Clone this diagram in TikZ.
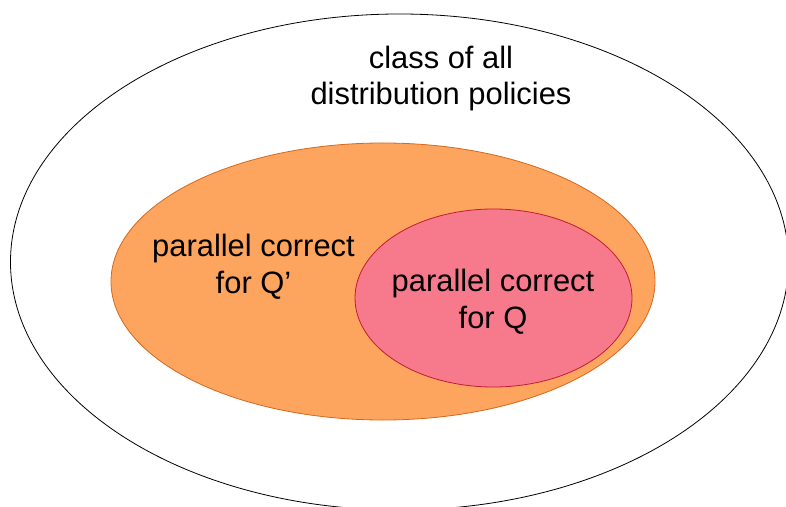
\documentclass[tikz,border=0pt]{standalone}
\usepackage{fontspec}
\setmainfont{Liberation Sans}
\usetikzlibrary{shapes.geometric}
\definecolor{orfill}{RGB}{253,164,94}
\definecolor{ordraw}{RGB}{214,104,30}
\definecolor{pkfill}{RGB}{246,122,139}
\definecolor{pkdraw}{RGB}{196,28,52}
\tikzset{
  setshape/.style={ellipse, inner sep=0pt, line width=0.8bp},
  lbl/.style={align=center, font=\fontsize{31}{37}\selectfont, inner sep=0pt}
}
\begin{document}
\begin{tikzpicture}[x=1bp,y=-1bp]
\useasboundingbox (0,0) rectangle (786,507);
\node[setshape, draw=black, minimum width=778bp, minimum height=496bp] (outer) at (399.5,262) {};
\node[setshape, draw=ordraw, fill=orfill, minimum width=544bp, minimum height=277bp] (orange) at (383,281.5) {};
\node[setshape, draw=pkdraw, fill=pkfill, minimum width=277bp, minimum height=178bp] (pink) at (493.5,298) {};
\node[lbl] (tall) at (441,78.5) {class of all\\distribution policies};
\node[lbl] (tqp) at (253.5,267) {parallel correct\\for Q’};
\node[lbl] (tq) at (493,302) {parallel correct\\for Q};
\end{tikzpicture}
\end{document}
